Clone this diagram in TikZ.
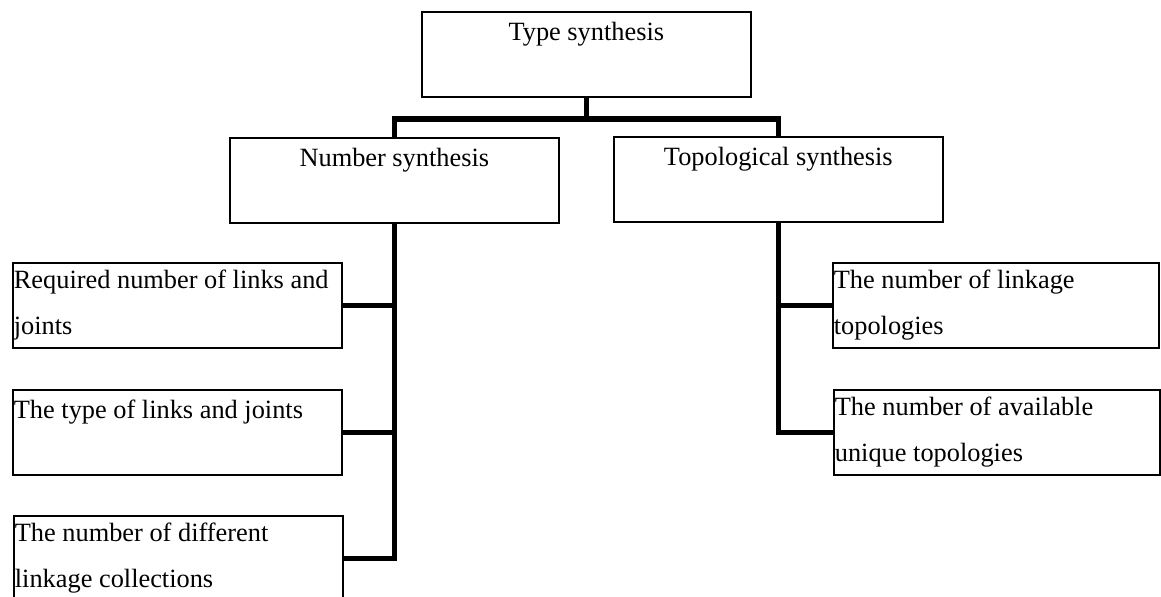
\documentclass[tikz,border=0pt]{standalone}
\usepackage{fontspec}
\setmainfont{Liberation Serif}
\usepackage{tikz}

\begin{document}
\begin{tikzpicture}[x = 0.02cm, y = -0.02cm,
		blk/.style = {draw, line width = 1pt, anchor = north west, inner xsep = 0.02cm, inner ysep = 0pt,
			text width = 6.54cm, minimum width = 6.58cm, minimum height = 1.7cm,
			font = \fontsize{15}{26}\selectfont},
		headblk/.style = {blk, align = flush center},
		leafblk/.style = {blk, align = flush left},
		rightblk/.style = {leafblk, text width = 6.48cm, minimum width = 6.52cm},
		conn/.style = {line width = 3.2pt}]
			\useasboundingbox (0,0) rectangle (1161,597);
			% synthesis levels
			\node (type) at (421,11) [headblk] {Type synthesis\\ \mbox{}};
			\node (num) at (229,137) [headblk] {Number synthesis\\ \mbox{}};
			\node (topo) at (613,136) [headblk] {Topological synthesis\\ \mbox{}};
			% number synthesis items
			\node (b1) at (12,262) [leafblk] {Required number of links and\\ joints};
			\node (b2) at (12,389) [leafblk] {The type of links and joints\\ \mbox{}};
			\node (b3) at (13,515) [leafblk] {The number of different\\ linkage collections};
			% topological synthesis items
			\node (b4) at (832,262) [rightblk] {The number of linkage\\ topologies};
			\node (b5) at (833,389) [rightblk] {The number of available\\ unique topologies};
			\draw[conn] (type.south) -- ++(0,21) coordinate (j);
			\draw[conn] (num.north) |- (j) -| (topo.north);
			\draw[conn] (num.south) |- (b1.east);
			\draw[conn] (num.south) |- (b2.east);
			\draw[conn] (num.south) |- (b3.east);
			\draw[conn] (topo.south) |- (b4.west);
			\draw[conn] (topo.south) |- (b5.west);
			\end{tikzpicture}
\end{document}
